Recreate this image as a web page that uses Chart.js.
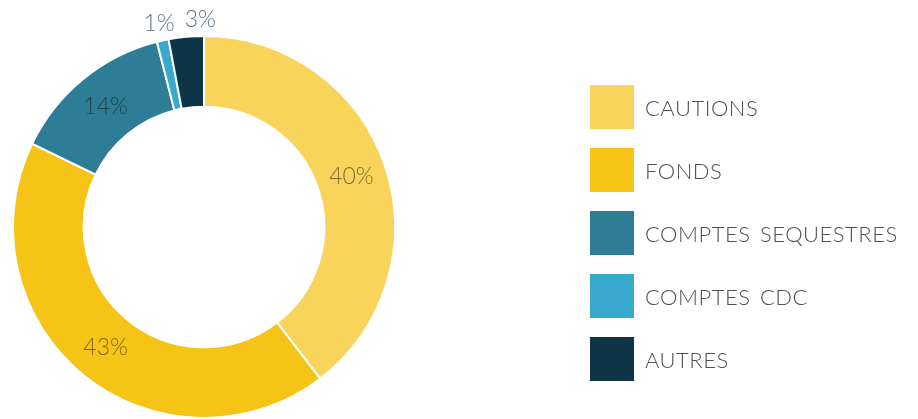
<!DOCTYPE html>
<html>
<head>
<meta charset="utf-8">
<script src="https://cdn.jsdelivr.net/npm/chart.js@4/dist/chart.umd.min.js"></script>
<style>
  html, body { margin: 0; padding: 0; background: #ffffff; }
  #wrap { position: relative; width: 918px; height: 419px; overflow: hidden; }
  #legend { position: absolute; left: 590px; top: 85px; margin: 0; padding: 0; list-style: none;
            font-family: "Lato", "DejaVu Sans", sans-serif; font-weight: 300; }
  #legend li { display: flex; align-items: center; height: 44px; margin-bottom: 19px; }
  #legend .box { width: 44px; height: 44px; margin-right: 11px; }
  #legend .txt { font-size: 22px; color: #505050; letter-spacing: 0.5px; word-spacing: 3px; white-space: nowrap; }
</style>
</head>
<body>
<div id="wrap">
  <canvas id="c" width="918" height="419"></canvas>
  <ul id="legend"></ul>
</div>
<script>
// Répartition des garanties (en %)
const categories = ["CAUTIONS", "FONDS", "COMPTES SEQUESTRES", "COMPTES CDC", "AUTRES"];
const shares = [40, 43, 14, 1, 3];
const palette = ["#F9D45A", "#F6C416", "#2E7D97", "#3AA9D0", "#0E3447"];

// Percent labels: inside the ring for wide slices, above the ring for thin ones
const sliceLabels = {
  id: "sliceLabels",
  afterDatasetsDraw(chart) {
    const ctx = chart.ctx;
    const meta = chart.getDatasetMeta(0);
    const values = chart.data.datasets[0].data;
    const outside = [];
    ctx.save();
    ctx.font = '300 23px "Lato", "DejaVu Sans", sans-serif';
    ctx.textBaseline = "middle";
    meta.data.forEach((arc, i) => {
      const { x, y, startAngle, endAngle, innerRadius, outerRadius } = arc.getProps(
        ["x", "y", "startAngle", "endAngle", "innerRadius", "outerRadius"], true);
      const mid = (startAngle + endAngle) / 2;
      const text = values[i] + "%";
      const w = ctx.measureText(text).width;
      if (endAngle - startAngle > 0.3) {
        const r = (innerRadius + outerRadius) / 2;
        ctx.fillStyle = "rgba(20, 20, 10, 0.55)";
        ctx.textAlign = "center";
        ctx.fillText(text, x + Math.cos(mid) * r, y + Math.sin(mid) * r);
      } else {
        const r = outerRadius + 17;
        outside.push({ text, w, cx: x + Math.cos(mid) * r, cy: y + Math.sin(mid) * r });
      }
    });
    // spread neighbouring outside labels so they do not collide
    for (let i = 1; i < outside.length; i++) {
      const a = outside[i - 1], b = outside[i];
      const minGap = (a.w + b.w) / 2 + 10;
      if (b.cx - a.cx < minGap) b.cx = a.cx + minGap;
    }
    ctx.fillStyle = "#5f7383";
    ctx.textAlign = "center";
    outside.forEach(l => ctx.fillText(l.text, l.cx, l.cy));
    ctx.restore();
  }
};

new Chart(document.getElementById("c"), {
  type: "doughnut",
  data: {
    labels: categories,
    datasets: [{
      data: shares,
      backgroundColor: palette,
      borderColor: "#ffffff",
      borderWidth: 2,
      hoverOffset: 0
    }]
  },
  options: {
    responsive: false,
    animation: false,
    cutout: "63%",
    layout: { padding: { left: 12, right: 522, top: 35, bottom: 0 } },
    plugins: {
      legend: { display: false },
      tooltip: { enabled: false }
    }
  },
  plugins: [sliceLabels]
});

// Legend list
const legend = document.getElementById("legend");
categories.forEach((name, i) => {
  const li = document.createElement("li");
  const box = document.createElement("span");
  box.className = "box";
  box.style.background = palette[i];
  const txt = document.createElement("span");
  txt.className = "txt";
  txt.textContent = name;
  li.appendChild(box);
  li.appendChild(txt);
  legend.appendChild(li);
});
</script>
</body>
</html>
